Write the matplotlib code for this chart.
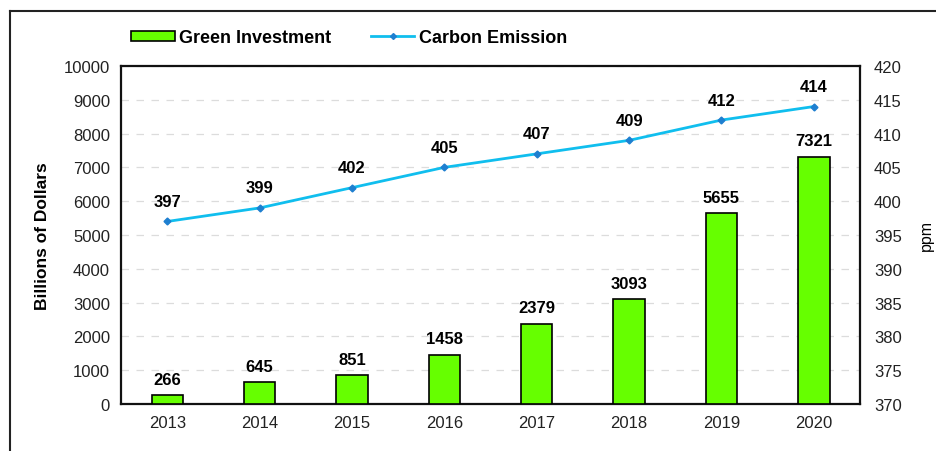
import matplotlib
matplotlib.use("Agg")
import matplotlib.pyplot as plt
from matplotlib.lines import Line2D
from matplotlib.patches import Patch

plt.rcParams['font.family'] = ['Liberation Sans', 'DejaVu Sans']

years = ['2013', '2014', '2015', '2016', '2017', '2018', '2019', '2020']
investment = [266, 645, 851, 1458, 2379, 3093, 5655, 7321]
emission = [397, 399, 402, 405, 407, 409, 412, 414]

bar_color = '#66FF00'
line_color = '#10BEEE'
marker_color = '#1E7FD0'

fig = plt.figure(figsize=(9.36, 4.52), dpi=100)
ax = fig.add_axes([0.1293, 0.104, 0.7895, 0.7478])
x = list(range(len(years)))
ax.bar(x, investment, width=0.34, color=bar_color, edgecolor='black', linewidth=1.2, zorder=3)
ax.set_xlim(-0.5, len(years) - 0.5)
ax.set_ylim(0, 10000)
ax.set_yticks(range(0, 10001, 1000))
ax.set_xticks(x)
ax.set_xticklabels(years)
ax.yaxis.grid(True, linestyle=(0, (6, 6)), color='#dcdcdc', linewidth=0.9, zorder=0)
ax.tick_params(axis='both', length=0, labelsize=12, colors='#222222', pad=8)
for s in ax.spines.values():
    s.set_linewidth(1.6)
    s.set_color('#111111')
ax.set_ylabel('Billions of Dollars', fontsize=12.5, fontweight='bold', labelpad=10)
for xi, v in zip(x, investment):
    ax.annotate(str(v), (xi, v), xytext=(0, 6), textcoords='offset points',
                ha='center', va='bottom', fontsize=12, fontweight='bold', zorder=5)

ax2 = ax.twinx()
ax2.plot(x, emission, color=line_color, linewidth=2, marker='D', markersize=3.5,
         markerfacecolor=marker_color, markeredgecolor=marker_color, zorder=4)
ax2.set_ylim(370, 420)
ax2.set_yticks(range(370, 421, 5))
ax2.tick_params(axis='y', length=0, labelsize=12, colors='#222222', pad=10)
for s in ax2.spines.values():
    s.set_visible(False)
ax2.set_ylabel('ppm', fontsize=11.5, labelpad=12)
for xi, v in zip(x, emission):
    ax2.annotate(str(v), (xi, v), xytext=(0, 9), textcoords='offset points',
                 ha='center', va='bottom', fontsize=12, fontweight='bold', zorder=5)

handles = [Patch(facecolor=bar_color, edgecolor='black', linewidth=1.2),
           Line2D([0], [0], color=line_color, linewidth=2, marker='D', markersize=3,
                  markerfacecolor=marker_color, markeredgecolor=marker_color)]
fig.legend(handles, ['Green Investment', 'Carbon Emission'], loc='center left',
           bbox_to_anchor=(0.123, 0.914), ncol=2, frameon=False,
           prop={'weight': 'bold', 'size': 13}, handlelength=2.4, handleheight=0.55,
           columnspacing=2.2, handletextpad=0.25)

fig.add_artist(Line2D([0.011, 1.0], [0.973, 0.973], color='#222222', linewidth=1.5,
                      transform=fig.transFigure))
fig.add_artist(Line2D([0.011, 0.011], [0.0, 0.973], color='#222222', linewidth=1.5,
                      transform=fig.transFigure))

fig.savefig('out.png', dpi=100)
